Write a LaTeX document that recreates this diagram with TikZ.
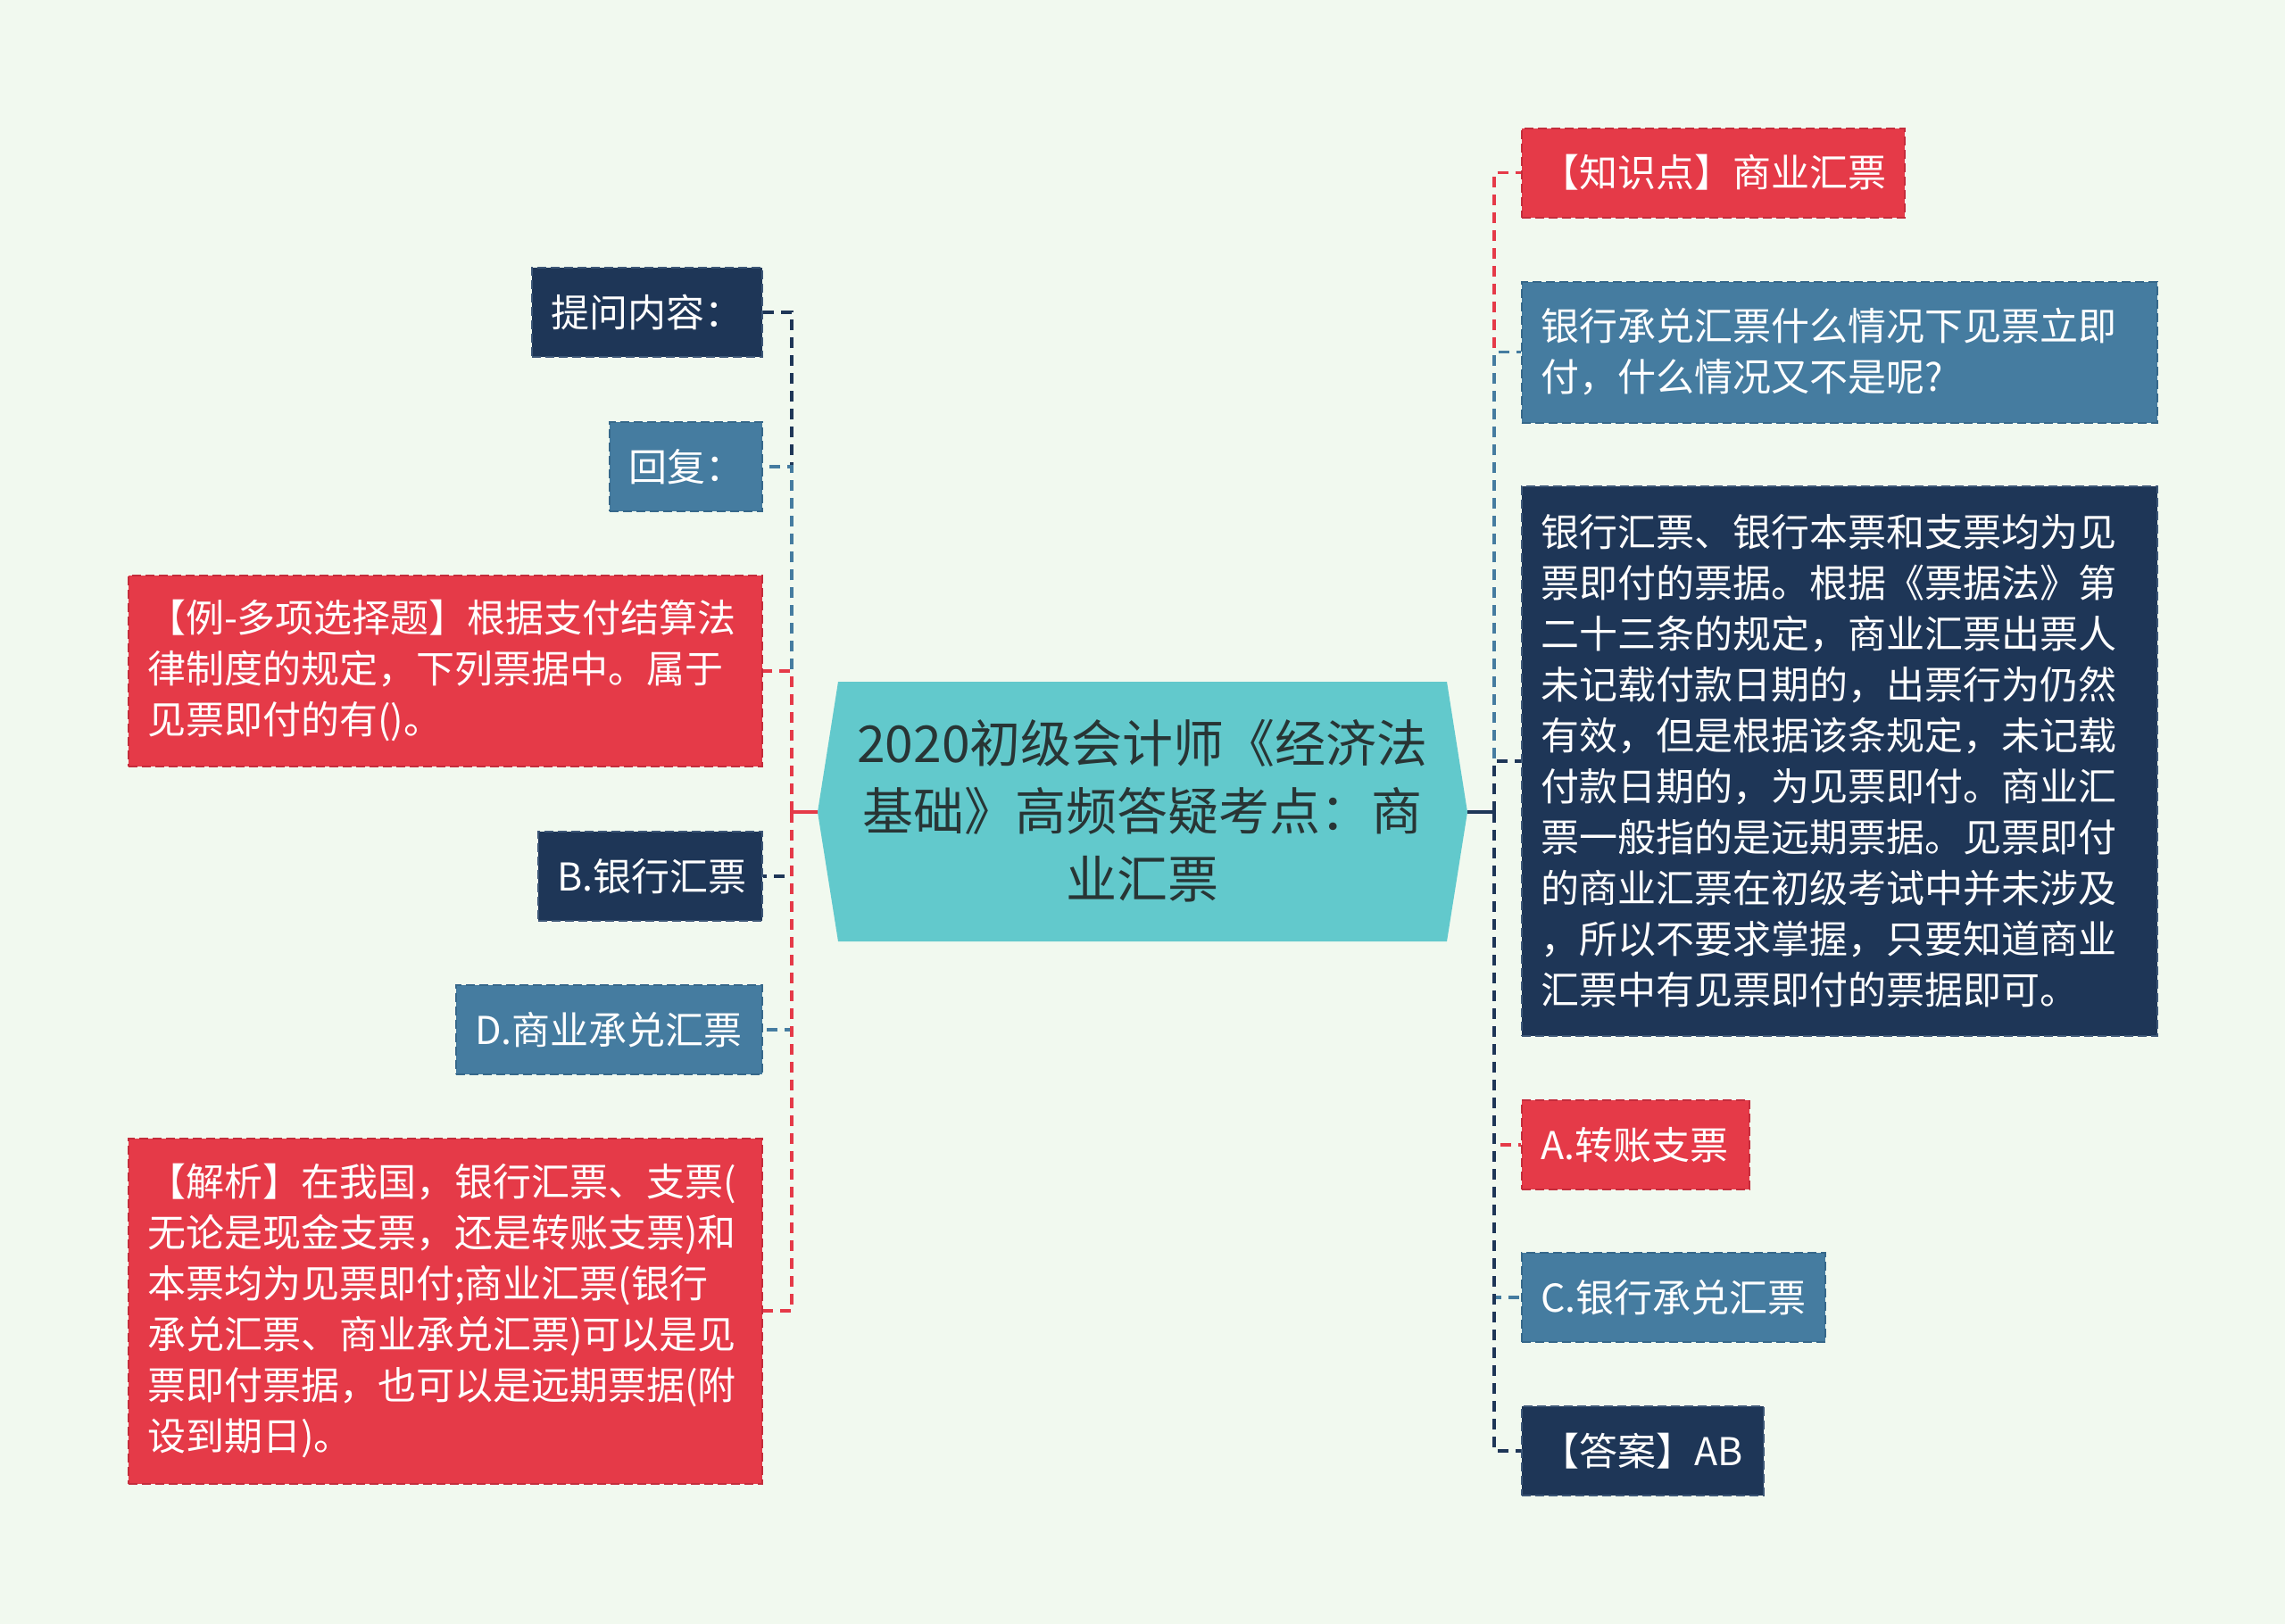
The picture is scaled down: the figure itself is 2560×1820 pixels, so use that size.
\documentclass[tikz,border=0pt]{standalone}
\usepackage{fontspec}
\setmainfont{Noto Sans CJK SC}
\definecolor{bgc}{HTML}{F1F9EF}
\definecolor{cred}{HTML}{E53A48}
\definecolor{credb}{HTML}{C42C3B}
\definecolor{cblue}{HTML}{457CA0}
\definecolor{cblueb}{HTML}{36688A}
\definecolor{cnavy}{HTML}{1E3657}
\definecolor{cnavyb}{HTML}{3C5676}
\definecolor{cteal}{HTML}{62C9CC}
\definecolor{ctitle}{HTML}{283535}
\begin{document}
\begin{tikzpicture}[x=1pt,y=-1pt,
  box/.style={text=white, align=left, inner xsep=21pt, inner ysep=0pt,
    line width=2pt, dash pattern=on 10pt off 5pt,
    font=\fontsize{43}{57}\selectfont, anchor=center},
  redbox/.style={box, fill=cred, draw=credb},
  bluebox/.style={box, fill=cblue, draw=cblueb},
  navybox/.style={box, fill=cnavy, draw=cnavyb},
  conn/.style={line width=3.6pt, dash pattern=on 12pt off 8pt},
  stub/.style={line width=4pt},
]
\useasboundingbox (0,0) rectangle (2560,1820);
\fill[bgc] (0,0) rectangle (2560,1820);

% centre
\fill[cteal] (916,910) -- (939,764) -- (1621,764) -- (1644,910) -- (1621,1055) -- (939,1055) -- cycle;
\node[font=\fontsize{57}{76}\selectfont, text=ctitle, align=center, inner sep=0pt] (root) at (1280,909)
  {2020初级会计师《经济法\\基础》高频答疑考点：商\\业汇票};
\coordinate (rootL) at (916,910);
\coordinate (rootR) at (1644,910);
\coordinate (jL) at (887,910);
\coordinate (jR) at (1674,910);

% left boxes
\node[navybox, text width=216pt, minimum height=100pt] (q) at (725,350) {提问内容：};
\node[bluebox, text width=129pt, minimum height=100pt] (r) at (768.5,523) {回复：};
\node[redbox, text width=668pt, minimum height=214pt] (ex) at (499,752)
  {【例-多项选择题】根据支付结算法\\律制度的规定，下列票据中。属于\\见票即付的有()。};
\node[navybox, text width=209pt, minimum height=100pt] (b) at (728.5,982) {B.银行汇票};
\node[bluebox, text width=301pt, minimum height=100pt] (d) at (682.5,1154) {D.商业承兑汇票};
\node[redbox, text width=668pt, minimum height=387pt] (an) at (499,1469)
  {【解析】在我国，银行汇票、支票(\\无论是现金支票，还是转账支票)和\\本票均为见票即付;商业汇票(银行\\承兑汇票、商业承兑汇票)可以是见\\票即付票据，也可以是远期票据(附\\设到期日)。};

% right boxes
\node[redbox, text width=387pt, minimum height=100pt] (k) at (1919.5,193.5) {【知识点】商业汇票};
\node[bluebox, text width=670pt, minimum height=158pt] (bq) at (2061,394.5)
  {银行承兑汇票什么情况下见票立即\\付，什么情况又不是呢?};
\node[navybox, text width=670pt, minimum height=616pt] (bt) at (2061,853)
  {银行汇票、银行本票和支票均为见\\票即付的票据。根据《票据法》第\\二十三条的规定，商业汇票出票人\\未记载付款日期的，出票行为仍然\\有效，但是根据该条规定，未记载\\付款日期的，为见票即付。商业汇\\票一般指的是远期票据。见票即付\\的商业汇票在初级考试中并未涉及\\，所以不要求掌握，只要知道商业\\汇票中有见票即付的票据即可。};
\node[redbox, text width=213pt, minimum height=100pt] (a) at (1832.5,1283) {A.转账支票};
\node[bluebox, text width=298pt, minimum height=100pt] (c) at (1875,1454) {C.银行承兑汇票};
\node[navybox, text width=229pt, minimum height=100pt] (ans) at (1840.5,1626) {【答案】AB};

% connectors left
\draw[conn, cnavy] (jL) |- (q.east);
\draw[conn, cblue] (jL) |- (r.east);
\draw[conn, cred] (jL) |- (ex.east);
\draw[conn, cnavy] (jL) |- (b.east);
\draw[conn, cblue] (jL) |- (d.east);
\draw[conn, cred] (jL) |- (an.east);
\draw[stub, cred] (rootL) -- (jL);

% connectors right
\draw[conn, cred] (jR) |- (k.west);
\draw[conn, cblue] (jR) |- (bq.west);
\draw[conn, cnavy] (jR) |- (bt.west);
\draw[conn, cred] (jR) |- (a.west);
\draw[conn, cblue] (jR) |- (c.west);
\draw[conn, cnavy] (jR) |- (ans.west);
\draw[stub, cnavy] (rootR) -- (jR);
\end{tikzpicture}
\end{document}
